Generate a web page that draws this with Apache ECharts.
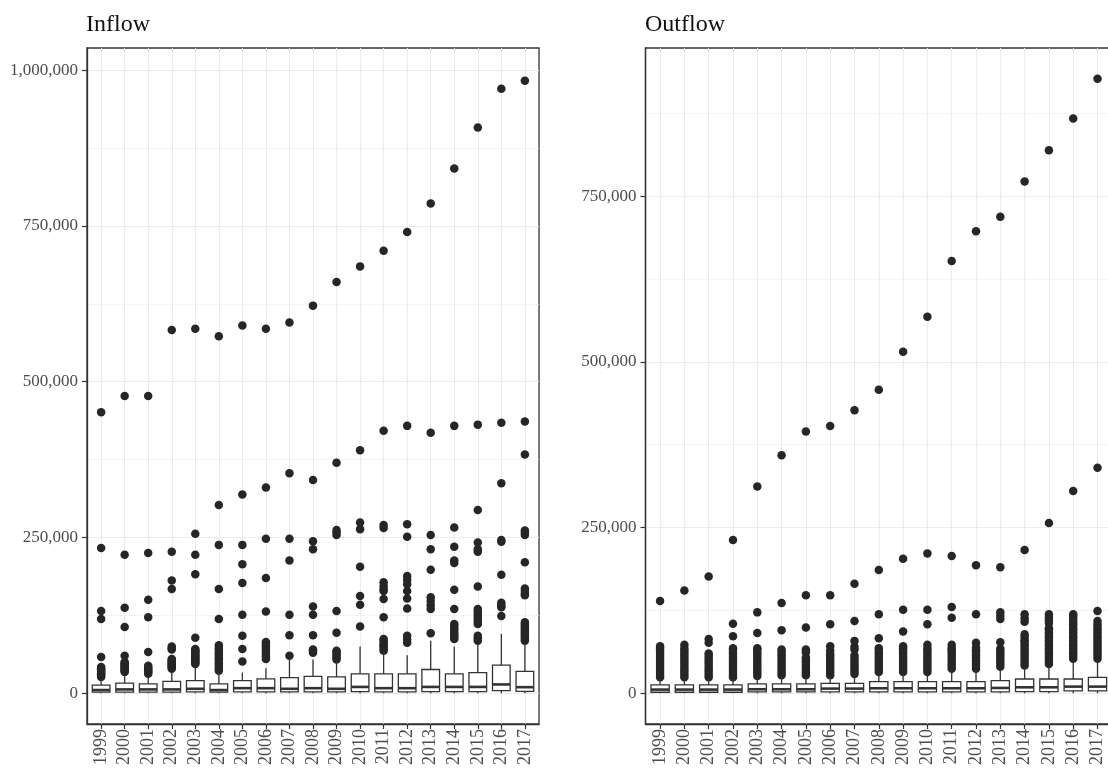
<!DOCTYPE html>
<html><head><meta charset="utf-8">
<script src="https://cdn.jsdelivr.net/npm/echarts@6/dist/echarts.min.js"></script>
<style>html,body{margin:0;padding:0;background:#fff}#c{width:1108px;height:777px}</style>
</head><body><div id="c"></div>
<script>
const years = ['1999','2000','2001','2002','2003','2004','2005','2006','2007','2008','2009','2010','2011','2012','2013','2014','2015','2016','2017'];
const inflowTicks = [0, 250000, 500000, 750000, 1000000];
const outflowTicks = [0, 250000, 500000, 750000];
const minorTicks = [125000, 375000, 625000, 875000];

// box statistics, thousands: [lower whisker, Q1, median, Q3, upper whisker]
const inflowBoxK = [
  [0,1.5,5,13,22],[0,1.5,6,16,27],[0,1.5,6,15,27],[0,1.5,6,19,33],[0,2,7,20,43],
  [0,1.5,5,15,34],[0,2,8,20,33],[0,2,8,23,40],[0,2,7,25,54],[0,2,8,27,54],
  [0,2,7,26,51],[0,2.5,10,31,75],[0,2,8,31,66],[0,2,8,31,61],[0,2.5,10,38,84],
  [0,2.5,10,31,75],[0,2.5,10,33,80],[0,4,14,45,95],[0,3,9.6,35,79]
];
// outliers, thousands
const inflowOutliersK = [
  [26,28,30,32,34,36,38,40,42,58,119,132,233,451],
  [34,36,38,40,42,44,46,48,50,60,106,137,222,477],
  [31,33,35,37,39,41,44,66,122,150,225,477],
  [39,41,43,45,47,49,51,53,55,70,72,75,167,181,227,583],
  [47,49,51,53,55,57,59,61,63,65,67,69,71,89,191,222,256,585],
  [36,40,44,48,52,56,60,64,68,72,77,119,167,238,302,573],
  [51,71,92,126,177,207,238,319,590],
  [55,59,63,67,71,75,79,82,131,185,248,330,585],
  [60,93,126,213,248,353,595],
  [65,68,70,93,126,139,231,244,342,622],
  [54,57,60,63,66,68,97,132,254,258,262,370,660],
  [107,142,156,203,263,274,390,685],
  [68,71,74,77,80,84,87,122,151,164,167,172,178,265,270,421,710],
  [81,86,92,136,152,164,175,182,188,251,271,429,740],
  [96,135,141,148,154,198,231,254,418,786],
  [87,90,93,96,100,104,108,111,135,166,209,213,235,266,429,842],
  [84,88,92,111,115,119,123,127,131,135,171,227,231,242,294,431,908],
  [124,138,141,145,190,243,246,337,434,970],
  [84,87,90,93,96,99,102,105,108,111,114,157,160,164,168,210,254,258,261,383,436,983]
];
const outflowBoxK = [
  [0,1.5,5.5,12.5,21],[0,1.5,5.5,12.5,21],[0,1.5,5.5,12.5,22],[0,1.5,5.5,12.5,22],[0,2,6,14,24],
  [0,2,6,14,25],[0,2,6,14,25],[0,2,7,15,25],[0,2,7,15,27],[0,2,7.5,17.5,30],
  [0,2,7.5,17.5,30],[0,2,7.5,17.5,30],[0,2,7.5,17.5,34],[0,2,7.5,17.5,34],[0,2,8,19,37],
  [0,2.5,9,21.5,40],[0,2.5,9,21.5,42],[0,3.5,10,21.5,49],[0,3.5,10,24,49]
];
const outflowOutliersK = [
  [24,28,32,36,40,44,48,52,56,60,64,68,71,139],
  [24,28,32,36,40,44,48,52,56,60,64,68,73,155],
  [24,28,32,36,40,44,48,52,56,60,76,82,176],
  [24,28,32,36,40,44,48,52,56,60,64,68,86,105,231],
  [26,30,34,38,42,46,50,54,58,62,66,68,91,122,312],
  [27,31,35,39,43,47,51,55,59,63,66,95,136,359],
  [27,31,35,39,43,47,51,54,62,66,99,148,395],
  [27,31,35,39,43,47,51,55,59,64,71,104,148,403],
  [29,33,37,41,45,49,53,57,66,70,79,109,165,427],
  [32,36,40,44,48,52,56,60,64,68,83,119,186,458],
  [32,36,40,44,48,52,56,60,64,68,71,93,126,203,515],
  [32,36,40,44,48,52,56,60,64,68,73,104,126,211,568],
  [37,41,45,49,53,57,61,65,68,73,114,130,207,652],
  [37,41,45,49,53,57,61,65,69,76,119,193,697],
  [40,44,48,52,56,60,64,67,77,112,117,122,190,719],
  [42,46,50,54,58,62,66,70,74,78,80,85,89,108,113,119,216,772],
  [44,48,52,56,60,64,68,72,76,80,84,88,92,96,98,106,110,114,119,257,819],
  [52,56,60,64,68,72,76,80,84,88,92,96,100,104,108,112,116,119,305,867],
  [52,56,60,64,68,72,76,80,84,88,92,96,100,104,109,124,340,927]
];

const K = 1000;
const serif = "'Liberation Serif','DejaVu Serif',serif";
const idx = years.map((_, i) => i);

function boxData(box) { return box.map((b, i) => [i].concat(b.map(v => v * K))); }
function outData(out) { const r = []; out.forEach((arr, i) => arr.forEach(v => r.push([i, v * K]))); return r; }

function renderBox(params, api) {
  const i = api.value(0);
  const lo = api.coord([i, api.value(1)]);
  const q1 = api.coord([i, api.value(2)]);
  const med = api.coord([i, api.value(3)]);
  const q3 = api.coord([i, api.value(4)]);
  const hi = api.coord([i, api.value(5)]);
  const w = api.size([0.75, 0])[0];
  const x = lo[0];
  const ls = {stroke: '#333', lineWidth: 1.3};
  return {type: 'group', children: [
    {type: 'line', shape: {x1: x, y1: q3[1], x2: x, y2: hi[1]}, style: ls},
    {type: 'line', shape: {x1: x, y1: q1[1], x2: x, y2: lo[1]}, style: ls},
    {type: 'rect', shape: {x: x - w / 2, y: q3[1], width: w, height: q1[1] - q3[1]}, style: {stroke: '#333', lineWidth: 1.3, fill: '#fff'}},
    {type: 'line', shape: {x1: x - w / 2, y1: med[1], x2: x + w / 2, y2: med[1]}, style: {stroke: '#333', lineWidth: 2.6}}
  ]};
}

function xAxis(g) {
  return {
    type: 'value', gridIndex: g, min: -0.6, max: 18.6, position: 'bottom',
    axisLine: {show: true, onZero: false, lineStyle: {color: '#333', width: 1.3}},
    axisTick: {show: true, customValues: idx, length: 5, lineStyle: {color: '#333', width: 1.2}},
    axisLabel: {customValues: idx, rotate: 90, margin: 5, formatter: v => years[Math.round(v)],
      fontFamily: serif, fontSize: 18, color: '#4d4d4d'},
    splitLine: {show: true, lineStyle: {color: '#ebebeb', width: 1}}
  };
}
function yAxisMajor(g, min, max, ticks) {
  return {
    type: 'value', gridIndex: g, min: min, max: max, position: 'left',
    axisLine: {show: true, onZero: false, lineStyle: {color: '#333', width: 1.3}},
    axisTick: {show: true, customValues: ticks, length: 5, lineStyle: {color: '#333', width: 1.2}},
    axisLabel: {customValues: ticks, margin: 9, formatter: v => v.toLocaleString('en-US'),
      fontFamily: serif, fontSize: 17, color: '#4d4d4d'},
    splitLine: {show: true, lineStyle: {color: '#ebebeb', width: 1}}
  };
}
function yAxisMinor(g, min, max) {
  return {
    type: 'value', gridIndex: g, min: min, max: max, position: 'left',
    axisLine: {show: false, onZero: false},
    axisTick: {show: false, customValues: minorTicks},
    axisLabel: {show: false, customValues: minorTicks},
    splitLine: {show: true, lineStyle: {color: '#f0f0f0', width: 0.8}}
  };
}

const chart = echarts.init(document.getElementById('c'), null, {renderer: 'canvas'});
chart.setOption({
  animation: false,
  backgroundColor: '#fff',
  title: [
    {text: 'Inflow', left: 81, top: 8, textStyle: {fontFamily: serif, fontSize: 24, fontWeight: 'normal', color: '#111'}},
    {text: 'Outflow', left: 640, top: 8, textStyle: {fontFamily: serif, fontSize: 24, fontWeight: 'normal', color: '#111'}}
  ],
  grid: [
    {left: 87, top: 48, width: 452, height: 676, show: true, borderColor: '#333', borderWidth: 1.3, backgroundColor: 'transparent', outerBoundsMode: 'none', containLabel: false},
    {left: 645.5, top: 48, width: 466.6, height: 676, show: true, borderColor: '#333', borderWidth: 1.3, backgroundColor: 'transparent', outerBoundsMode: 'none', containLabel: false}
  ],
  xAxis: [xAxis(0), xAxis(1)],
  yAxis: [
    yAxisMajor(0, -49500, 1035500, inflowTicks),
    yAxisMinor(0, -49500, 1035500),
    yAxisMajor(1, -46400, 973400, outflowTicks),
    yAxisMinor(1, -46400, 973400)
  ],
  series: [
    {type: 'custom', xAxisIndex: 0, yAxisIndex: 0, renderItem: renderBox, data: boxData(inflowBoxK), encode: {x: 0, y: [1,2,3,4,5]}, z: 3},
    {type: 'scatter', xAxisIndex: 0, yAxisIndex: 0, data: outData(inflowOutliersK), symbolSize: 8.5, itemStyle: {color: '#262626', opacity: 1}, z: 2},
    {type: 'custom', xAxisIndex: 1, yAxisIndex: 2, renderItem: renderBox, data: boxData(outflowBoxK), encode: {x: 0, y: [1,2,3,4,5]}, z: 3},
    {type: 'scatter', xAxisIndex: 1, yAxisIndex: 2, data: outData(outflowOutliersK), symbolSize: 8.5, itemStyle: {color: '#262626', opacity: 1}, z: 2}
  ]
});
</script>
</body></html>
